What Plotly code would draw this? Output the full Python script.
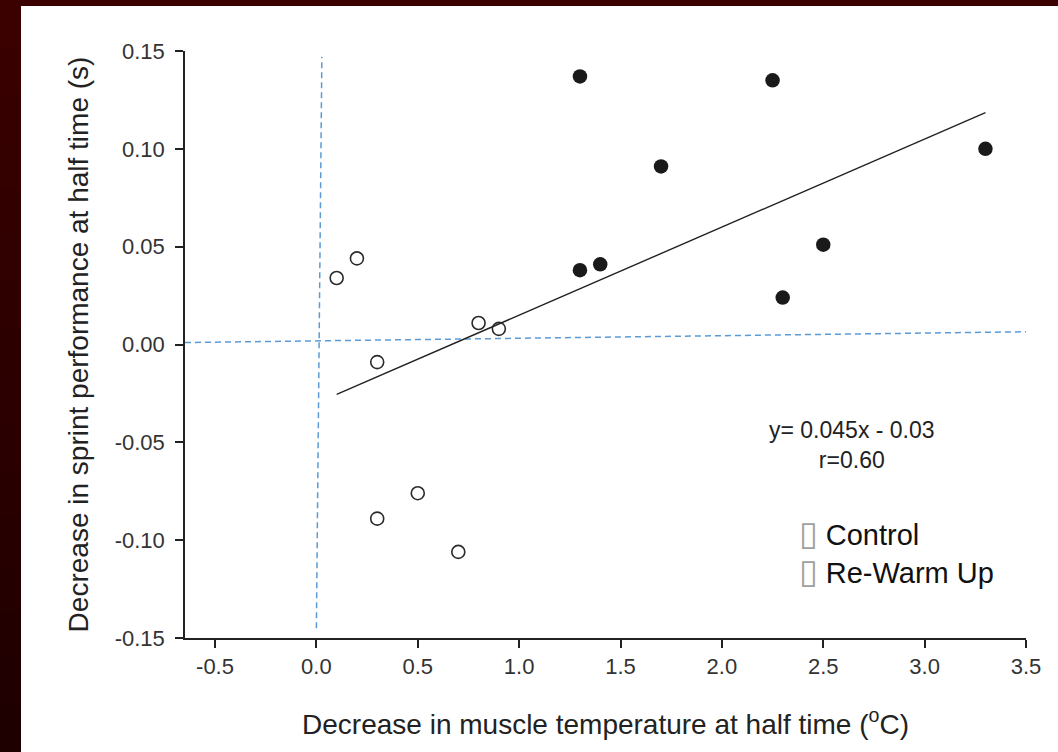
import plotly.graph_objects as go

# ---- data ----
control_x = [0.1, 0.2, 0.3, 0.8, 0.9, 0.3, 0.5, 0.7]
control_y = [0.034, 0.044, -0.009, 0.011, 0.008, -0.089, -0.076, -0.106]

rewarm_x = [1.3, 1.3, 1.4, 1.7, 2.25, 2.3, 2.5, 3.3]
rewarm_y = [0.137, 0.038, 0.041, 0.091, 0.135, 0.024, 0.051, 0.100]

fit_slope = 0.045
fit_intercept = -0.03
fit_x_range = [0.1, 3.3]

# reference (dashed) lines as drawn in the figure
vline_x = [0.0, 0.027]
vline_y = [-0.145, 0.147]
hline_x = [-0.648, 3.5]
hline_y = [0.001, 0.0065]

x_ticks = [-0.5, 0.0, 0.5, 1.0, 1.5, 2.0, 2.5, 3.0, 3.5]
x_ticklabels = ["-0.5", "0.0", "0.5", "1.0", "1.5", "2.0", "2.5", "3.0", "3.5"]
y_ticks = [0.15, 0.10, 0.05, 0.0, -0.05, -0.10, -0.15]
y_ticklabels = ["0.15", "0.10", "0.05", "0.00", "-0.05", "-0.10", "-0.15"]

equation_text = "y= 0.045x - 0.03<br>r=0.60"
legend_labels = ["Control", "Re-Warm Up"]

x_title = "Decrease in muscle temperature at half time (<sup>o</sup>C)"
y_title = "Decrease in sprint performance at half time (s)"

# ---- layout geometry ----
W, H = 1058, 752
ML, MR, MT, MB = 185, 32, 51, 114
PW, PH = W - ML - MR, H - MT - MB


def px_x(px):
    return (px - ML) / PW


def px_y(py):
    return (H - MB - py) / PH


FONT = "Liberation Sans, Arial, Helvetica, sans-serif"
BLUE = "#5b9bd5"
INK = "#222222"

fig = go.Figure()

fig.add_trace(go.Scatter(
    x=hline_x, y=hline_y, mode="lines",
    line=dict(color=BLUE, width=1.5, dash="6px,4px"),
    hoverinfo="skip", showlegend=False))
fig.add_trace(go.Scatter(
    x=vline_x, y=vline_y, mode="lines",
    line=dict(color=BLUE, width=1.5, dash="6px,4px"),
    hoverinfo="skip", showlegend=False))

fit_y = [fit_slope * v + fit_intercept for v in fit_x_range]
fig.add_trace(go.Scatter(
    x=fit_x_range, y=fit_y, mode="lines",
    line=dict(color=INK, width=1.4),
    hoverinfo="skip", showlegend=False))

fig.add_trace(go.Scatter(
    x=control_x, y=control_y, mode="markers", name=legend_labels[0],
    marker=dict(symbol="circle-open", size=13, color="#2a2a2a",
                line=dict(width=1.6, color="#2a2a2a")),
    showlegend=False))
fig.add_trace(go.Scatter(
    x=rewarm_x, y=rewarm_y, mode="markers", name=legend_labels[1],
    marker=dict(symbol="circle", size=14.5, color="#1a1a1a",
                line=dict(width=0)),
    showlegend=False))

# background: dark red gradient frame + white panel
shapes = []
n_bands = 16
top_c = (0x3b, 0x00, 0x00)
bot_c = (0x1e, 0x00, 0x00)
for i in range(n_bands):
    t = i / (n_bands - 1)
    c = tuple(int(round(a + (b - a) * t)) for a, b in zip(top_c, bot_c))
    y0 = H * i / n_bands
    y1 = H * (i + 1) / n_bands + 1
    shapes.append(dict(type="rect", xref="paper", yref="paper",
                       x0=px_x(0), x1=px_x(W), y0=px_y(y1), y1=px_y(y0),
                       fillcolor="rgb(%d,%d,%d)" % c, line=dict(width=0),
                       layer="below"))
shapes.append(dict(type="rect", xref="paper", yref="paper",
                   x0=px_x(21), x1=px_x(W), y0=px_y(H), y1=px_y(6),
                   fillcolor="white", line=dict(width=0), layer="below"))

box = '<span style="color:#a0a0a0;font-family:DejaVu Sans;font-size:34px">\u25af</span> '
annotations = [
    dict(x=2.643, y=-0.0512, xref="x", yref="y", text=equation_text,
         showarrow=False, xanchor="center", yanchor="middle", align="center",
         font=dict(family=FONT, size=23, color=INK)),
    dict(x=2.37, y=-0.1058, xref="x", yref="y",
         text="<br>".join(box + s for s in legend_labels),
         showarrow=False, xanchor="left", yanchor="middle", align="left",
         font=dict(family=FONT, size=29, color="#111111")),
]

fig.update_layout(
    width=W, height=H,
    margin=dict(l=ML, r=MR, t=MT, b=MB, pad=0),
    paper_bgcolor="#2c0000", plot_bgcolor="white",
    shapes=shapes, annotations=annotations,
    showlegend=False,
    font=dict(family=FONT, color=INK),
)
fig.update_xaxes(
    range=[-0.648, 3.5], tickvals=x_ticks, ticktext=x_ticklabels,
    showgrid=False, zeroline=False, showline=True, linecolor=INK, linewidth=1.5,
    ticks="outside", ticklen=8, tickwidth=1.5, tickcolor=INK,
    tickfont=dict(family=FONT, size=22, color="#333333"),
    title=dict(text=x_title, font=dict(family=FONT, size=28, color=INK), standoff=36),
)
fig.update_yaxes(
    range=[-0.15, 0.15], tickvals=y_ticks, ticktext=y_ticklabels,
    showgrid=False, zeroline=False, showline=True, linecolor=INK, linewidth=1.5,
    ticks="outside", ticklen=8, tickwidth=1.5, tickcolor=INK,
    tickfont=dict(family=FONT, size=22, color="#333333"),
    ticklabelstandoff=6,
    title=dict(text=y_title, font=dict(family=FONT, size=28, color=INK), standoff=18),
)

fig.write_html(
    "out.html",
    config={"displayModeBar": False},
    post_script="document.body.style.margin='0';document.body.style.overflow='hidden';",
)
